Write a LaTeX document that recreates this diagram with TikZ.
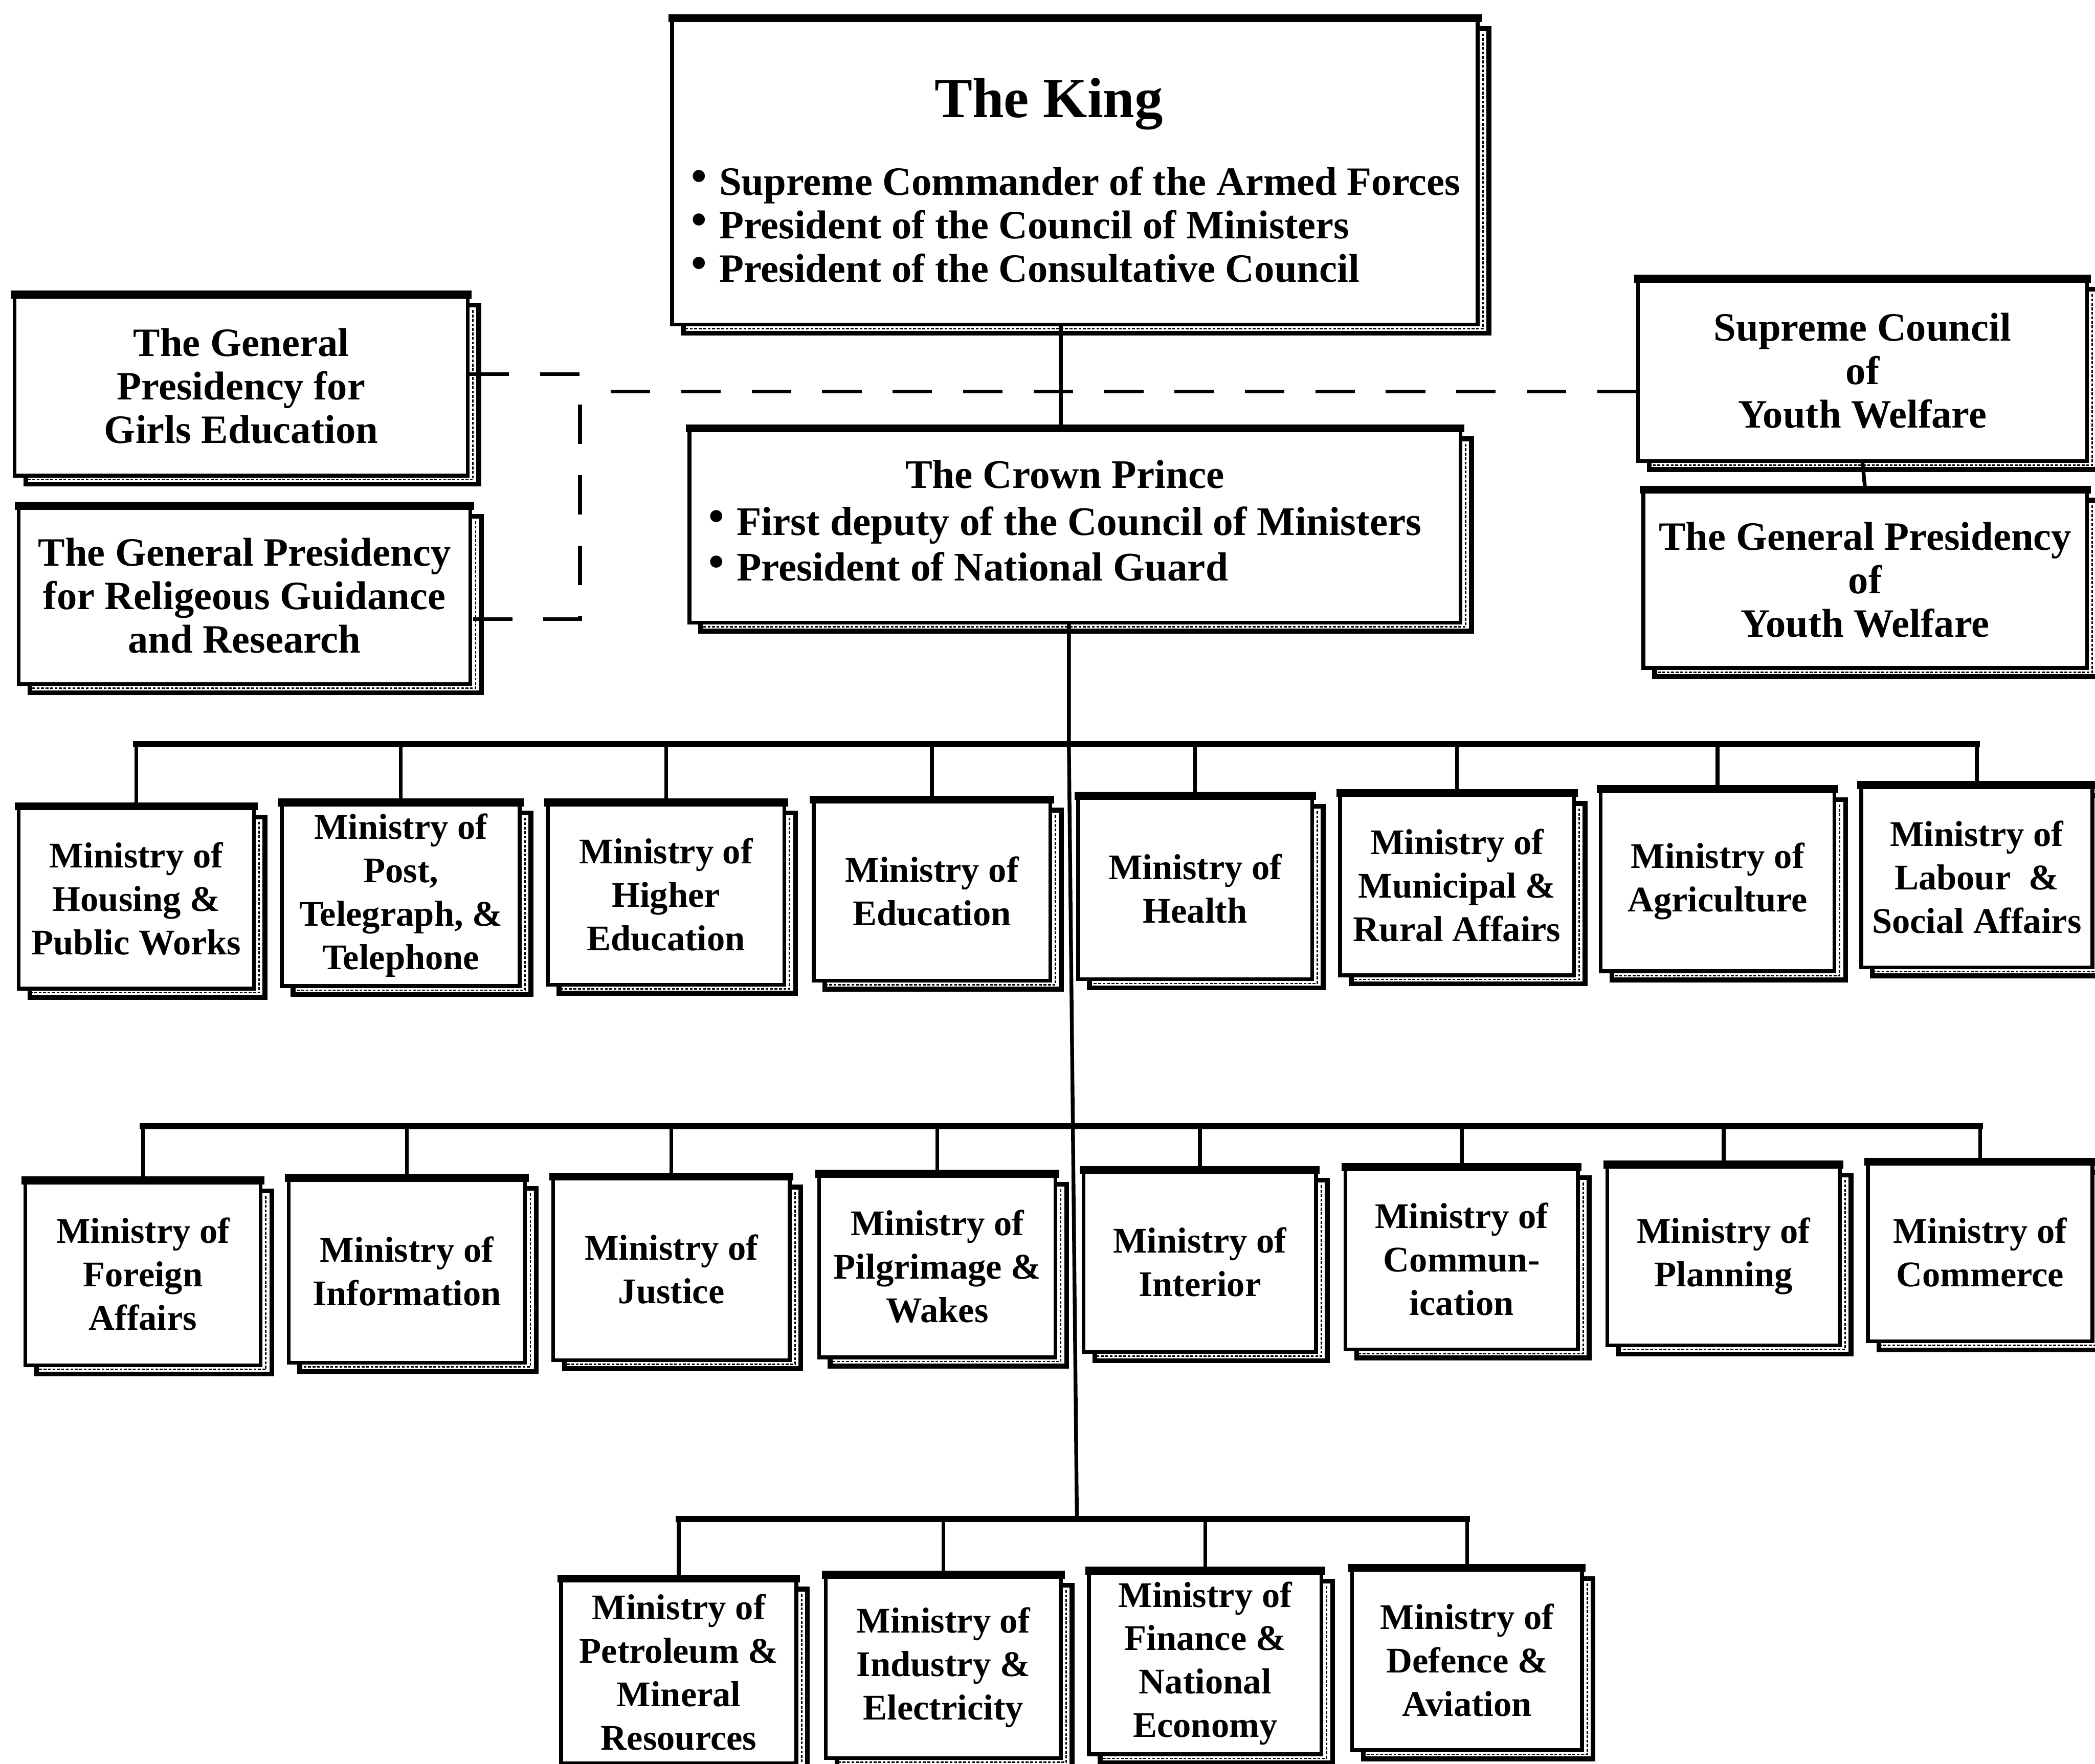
\documentclass[tikz,border=0pt]{standalone}
\usepackage{fontspec}
\setmainfont{Liberation Serif}
\usetikzlibrary{fit,shadows}

% text sizes
\newcommand\mintext{\fontsize{21}{25.3}\selectfont\bfseries}
\newcommand\bigtext{\fontsize{23.4}{25.3}\selectfont\bfseries}
\newcommand\crowntext{\fontsize{23.6}{26.5}\selectfont\bfseries}
\newcommand\blt{\raisebox{0.1em}{\fontsize{26}{26}\selectfont\textbullet}\hspace{0.3em}}
% a framed office: style of the text, name, top-left corner, bottom-right corner, text
\newcommand\orgnode[5][mintxt]{\node[orgbox, fit={#3 #4}, label={[#1]center:{#5}}] (#2) {};}

\begin{document}
\begin{tikzpicture}[x=0.027334cm, y=-0.027334cm,
  orgbox/.style={draw, line width=2.2pt, fill=white, inner sep=0pt,
    copy shadow={shadow xshift=6.5pt, shadow yshift=-5pt, draw=black, fill=white, line width=2.8pt}},
  mintxt/.style={align=center, font=\mintext},
  bigtxt/.style={align=center, font=\bigtext},
  topedge/.style={line width=4.6pt, shorten <=-1.1pt, shorten >=-1.1pt},
  stripe/.style={line width=0.8pt, dash pattern=on 1.6pt off 1pt},
  link/.style={line width=2.2pt},
  bus/.style={line width=3.6pt, line cap=rect},
  linkdash/.style={line width=2.3pt, dash pattern=on 23pt off 18pt},
]
\useasboundingbox (0,0) rectangle (1568,1320);

% ---- head of state ----
\node[orgbox, fit={(503,15) (1106,243)}] (king) {};
\node[font=\fontsize{33}{36}\selectfont\bfseries] (kingtitle) at (785,78) {The King};
\node[anchor=west, align=left, font=\bigtext] (kingroles) at (513,168)
  {\blt Supreme Commander of the Armed Forces\\
   \blt President of the Council of Ministers\\
   \blt President of the Consultative Council};

\node[orgbox, fit={(516,322) (1093,466)}] (crown) {};
\node[font=\crowntext] (crowntitle) at (797,355) {The Crown Prince};
\node[anchor=west, align=left, font=\crowntext] (crownroles) at (526,407)
  {\blt First deputy of the Council of Ministers\\
   \blt President of National Guard};

% ---- side bodies ----
\orgnode[bigtxt]{girls}{(11,222)}{(350,356)}{The General\\Presidency for\\Girls Education}
\orgnode[bigtxt]{relig}{(14,380)}{(352,512)}{The General Presidency\\for Religeous Guidance\\and Research}
\orgnode[bigtxt]{scyw}{(1226,210)}{(1562,345)}{Supreme Council\\of\\Youth Welfare}
\orgnode[bigtxt]{gpyw}{(1230,368)}{(1562,500)}{The General Presidency\\of\\Youth Welfare}

% ---- ministries, first row ----
\orgnode{m11}{(14,605)}{(190,740)}{Ministry of\\Housing \&\\Public Works}
\orgnode{m12}{(211,602)}{(389,738)}{Ministry of\\Post,\\Telegraph, \&\\Telephone}
\orgnode{m13}{(410,602)}{(587,737)}{Ministry of\\Higher\\Education}
\orgnode{m14}{(609,600)}{(786,734)}{Ministry of\\Education}
\orgnode{m15}{(807,597)}{(982,733)}{Ministry of\\Health}
\orgnode{m16}{(1003,595)}{(1178,730)}{Ministry of\\Municipal \&\\Rural Affairs}
\orgnode{m17}{(1198,592)}{(1373,727)}{Ministry of\\Agriculture}
\orgnode{m18}{(1393,589)}{(1566,724)}{Ministry of\\Labour\ \ \&\\Social Affairs}

% ---- ministries, second row ----
\orgnode{m21}{(19,885)}{(195,1022)}{Ministry of\\Foreign\\Affairs}
\orgnode{m22}{(216,883)}{(393,1020)}{Ministry of\\Information}
\orgnode{m23}{(414,882)}{(591,1018)}{Ministry of\\Justice}
\orgnode{m24}{(613,880)}{(790,1016)}{Ministry of\\Pilgrimage \&\\Wakes}
\orgnode{m25}{(811,877)}{(985,1012)}{Ministry of\\Interior}
\orgnode{m26}{(1007,875)}{(1181,1010)}{Ministry of\\Commun-\\ication}
\orgnode{m27}{(1203,873)}{(1377,1007)}{Ministry of\\Planning}
\orgnode{m28}{(1398,871)}{(1566,1004)}{Ministry of\\Commerce}

% ---- ministries, third row ----
\orgnode{m31}{(420,1183)}{(596,1320)}{Ministry of\\Petroleum \&\\Mineral\\Resources}
\orgnode{m32}{(618,1180)}{(794,1316)}{Ministry of\\Industry \&\\Electricity}
\orgnode{m33}{(815,1177)}{(989,1313)}{Ministry of\\Finance \&\\National\\Economy}
\orgnode{m34}{(1012,1175)}{(1184,1310)}{Ministry of\\Defence \&\\Aviation}

% heavy top edges and the speckled band inside each shadow
\foreach \n in {king,crown,girls,relig,scyw,gpyw,m11,m12,m13,m14,m15,m16,m17,m18,
                m21,m22,m23,m24,m25,m26,m27,m28,m31,m32,m33,m34}{
  \draw[topedge] (\n.north west) -- (\n.north east);
  \draw[stripe] ([xshift=2pt,yshift=-9pt]\n.north east) -- ([xshift=2pt,yshift=-1.3pt]\n.south east)
                -- ([xshift=8pt,yshift=-1.3pt]\n.south west);
}

% ---- connectors ----
\coordinate (kx) at (794,290);
\draw[link] (king.south -| kx) -- (crown.north -| kx);

\coordinate (b1) at (800,557);
\coordinate (b2) at (803,843);
\coordinate (b3) at (806,1137);
\draw[link] (crown.south -| b1) -- (b1) -- (b2) -- (b3);

\draw[bus] (m11.north |- b1) -- (m18.north |- b1);
\foreach \i in {1,...,8} \draw[link] (m1\i.north |- b1) -- (m1\i.north);
\draw[bus] (m21.north |- b2) -- (m28.north |- b2);
\foreach \i in {1,...,8} \draw[link] (m2\i.north |- b2) -- (m2\i.north);
\draw[bus] (m31.north |- b3) -- (m34.north |- b3);
\foreach \i in {1,...,4} \draw[link] (m3\i.north |- b3) -- (m3\i.north);

\draw[link] (scyw.south) -- (gpyw.north);

% dashed links to the bodies outside the ministries
\coordinate (bk) at (434,293);
\coordinate (girlspt) at ([yshift=7pt]girls.east);
\coordinate (religpt) at ([yshift=-13.5pt]relig.east);
\draw[linkdash] (girlspt) -| (bk) |- (religpt);
\draw[linkdash, dash phase=23pt] (bk) -- (bk -| scyw.west);
\end{tikzpicture}
\end{document}
